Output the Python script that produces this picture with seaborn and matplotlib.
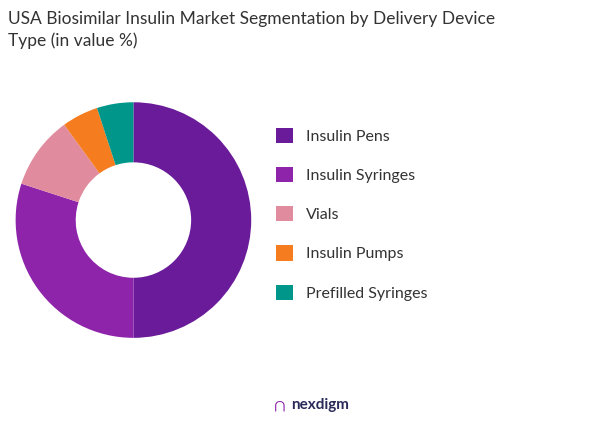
import matplotlib.pyplot as plt
import seaborn as sns

labels = ["Insulin Pens", "Insulin Syringes", "Vials", "Insulin Pumps", "Prefilled Syringes"]
values = [50, 30, 10, 5, 5]
colors = ["#6a1b9a", "#8e24aa", "#e08c9e", "#f57c1f", "#00968a"]

sns.set_theme(style="white")
plt.rcParams["font.family"] = ["Lato", "DejaVu Sans"]

fig = plt.figure(figsize=(6.01, 4.24), dpi=100)
ax = fig.add_axes([-0.023, 0.131, 0.49, 0.70])
wedges, _ = ax.pie(values, colors=colors, startangle=90, counterclock=False,
                   wedgeprops=dict(width=0.51, edgecolor="none"))
ax.set_aspect("equal")

fig.text(0.013, 0.975, "USA Biosimilar Insulin Market Segmentation by Delivery Device\nType (in value %)",
         fontsize=12.5, color="#333333", va="top", linespacing=1.45)

fig.legend(wedges, labels, loc="center left", bbox_to_anchor=(0.435, 0.495),
           frameon=False, fontsize=11.5, labelcolor="#333333",
           handlelength=1.1, handleheight=1.1, labelspacing=1.45)

fig.text(0.485, 0.045, "nexdigm", fontsize=11, fontweight="bold", color="#2b2b5a", va="center")
fig.text(0.455, 0.045, "\u2229", fontsize=14, color="#8e24aa", va="center")

fig.savefig("out.png", dpi=100)
